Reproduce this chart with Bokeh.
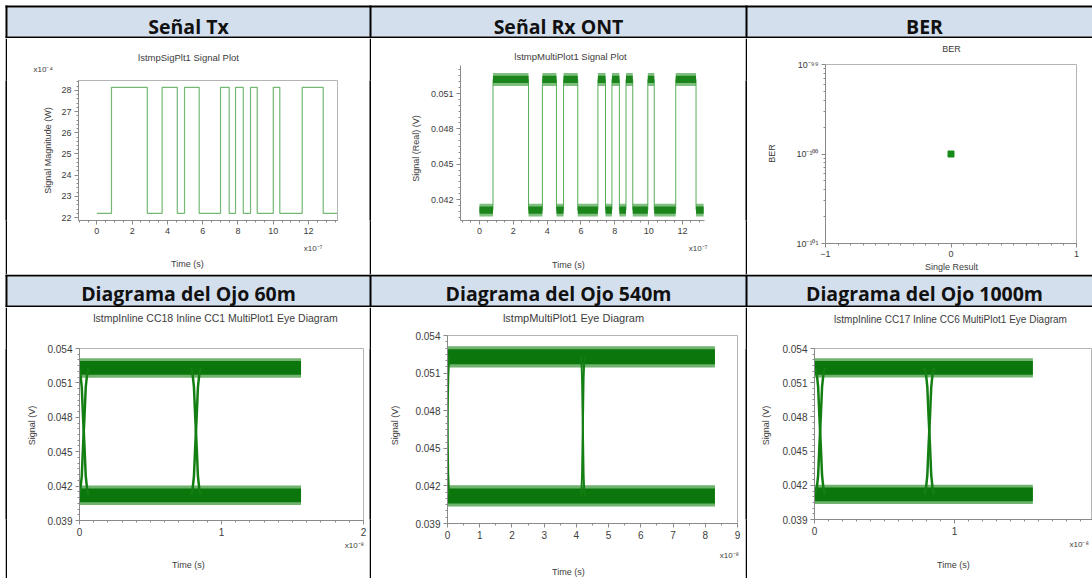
import math
from bokeh.plotting import figure
from bokeh.models import Range1d, Title, SingleIntervalTicker, FixedTicker, CustomJSTickFormatter
from bokeh.layouts import row, column
from bokeh.embed import file_html
from bokeh.resources import INLINE
from bokeh.core.properties import value

# ------------------------------------------------------------------ data
headers_top = ["Señal Tx", "Señal Rx ONT", "BER"]
headers_bottom = ["Diagrama del Ojo 60m", "Diagrama del Ojo 540m", "Diagrama del Ojo 1000m"]

titles = ["lstmpSigPlt1 Signal Plot", "lstmpMultiPlot1 Signal Plot", "BER",
          "lstmpInline CC18 Inline CC1 MultiPlot1 Eye Diagram",
          "lstmpMultiPlot1 Eye Diagram",
          "lstmpInline CC17 Inline CC6 MultiPlot1 Eye Diagram"]

# Tx signal: time (x1e-7 s), power (x1e-4 W)
tx_time = [0.0, 0.83, 2.86, 3.70, 4.56, 4.97, 5.80, 7.01, 7.50, 7.86, 8.30,
           8.71, 9.09, 10.00, 10.37, 11.64, 12.83, 13.62]
tx_power = [22.2, 28.15, 22.2, 28.15, 22.2, 28.15, 22.2, 28.15, 22.2, 28.15,
            22.2, 28.15, 22.2, 28.15, 22.2, 28.15, 22.2, 22.2]

# Rx signal: transition times (x1e-7 s), bit of each segment, levels (V)
rx_time = [0.0, 0.80, 2.90, 3.72, 4.55, 4.97, 5.81, 7.00, 7.45, 7.83, 8.27,
           8.66, 9.06, 9.95, 10.33, 11.60, 12.80, 13.25]
rx_bit = [0, 1, 0, 1, 0, 1, 0, 1, 0, 1, 0, 1, 0, 1, 0, 1, 0]
rx_high, rx_low = 0.0522, 0.0411
rx_core, rx_fringe = 0.0003, 0.00055

# BER
ber_x = [0.0]
ber_y = [1e-100]

# Eye diagrams: crossing times (x1e-8 s), end of traces
eye60_cross, eye60_end = [0.03, 0.82], 1.56
eye540_cross, eye540_end = [0.0, 4.2], 8.3
eye1000_cross, eye1000_end = [0.04, 0.82], 1.56
eye_high, eye_low = 0.0523, 0.0412
eye_core, eye_fringe = 0.0006, 0.00085
edge_dx = [-1.0, -0.7, -0.4, -0.15, 0.0, 0.15, 0.4, 0.7, 1.0]
edge_frac = [0.0, 0.04, 0.15, 0.38, 0.5, 0.62, 0.85, 0.96, 1.0]

# ------------------------------------------------------------------ style
FONT = "Liberation Sans"
TXT = "#3c3c3c"
AX = "#8a8a8a"
BLUE = "#D4DFEE"
W = 1092

_AW = {' ': 278, '(': 333, ')': 333, '.': 278, '-': 333, '\u207b': 420, '\u2074': 420,
       '\u2077': 420, '\u2078': 420}
for ch in "0123456789":
    _AW[ch] = 556
for ch, wd in zip("abcdefghijklmnopqrstuvwxyz",
                  [556, 556, 500, 556, 556, 278, 556, 556, 222, 222, 500, 222, 833, 556, 556,
                   556, 556, 333, 500, 278, 556, 500, 722, 500, 500, 500]):
    _AW[ch] = wd
for ch, wd in zip("ABCDEFGHIJKLMNOPQRSTUVWXYZ",
                  [667, 667, 722, 722, 667, 611, 778, 722, 278, 500, 667, 556, 833, 722, 778,
                   667, 778, 722, 667, 611, 722, 667, 944, 667, 667, 611]):
    _AW[ch] = wd


def text_w(t, size):
    return sum(_AW.get(c, 556) for c in t) / 1000.0 * size


def strip(w, h, color):
    p = figure(width=w, height=h, toolbar_location=None, output_backend="svg",
               min_border=0, x_axis_location=None, y_axis_location=None,
               outline_line_color=None, background_fill_color=color,
               border_fill_color=color, x_range=Range1d(0, 1), y_range=Range1d(0, 1))
    p.grid.visible = False
    p.scatter([0.5], [0.5], size=0, alpha=0)
    return p


def header(h, top_y, bot_y, labels, base_y):
    p = figure(width=W, height=h, toolbar_location=None, output_backend="svg",
               min_border=0, x_axis_location=None, y_axis_location=None,
               outline_line_color=None, x_range=Range1d(0, W), y_range=Range1d(h, 0),
               background_fill_color="white", border_fill_color="white")
    p.grid.visible = False
    p.quad(left=[7], right=[W], top=[top_y + 2], bottom=[bot_y], color=BLUE, line_color=None)
    p.quad(left=[5, 5], right=[W, W], top=[top_y, bot_y], bottom=[top_y + 2, bot_y + 2],
           color="black", line_color=None)
    p.quad(left=[5, 369, 745], right=[7, 371, 747], top=[top_y] * 3, bottom=[bot_y + 2] * 3,
           color="black", line_color=None)
    p.text(x=[188, 558, 924], y=[base_y] * 3, text=labels, text_font=value("Open Sans"),
           text_font_style="bold", text_font_size="19.5px", text_align="center",
           text_baseline="alphabetic", text_color="#111111")
    return p


def cell_fig(cell, frame, xr, yr, tick, log_y=False, outline=True):
    cx0, cy0, cw, ch = cell
    L, R, T, B = frame
    p = figure(width=cw, height=ch, x_range=Range1d(*xr), y_range=Range1d(*yr),
               y_axis_type="log" if log_y else "linear", title=None,
               output_backend="svg", toolbar_location=None,
               min_border_left=L - cx0, min_border_right=cx0 + cw - R,
               min_border_top=T - cy0, min_border_bottom=cy0 + ch - B,
               background_fill_color="white", border_fill_color="white")
    p.frame_align = False
    p.grid.visible = False
    p.outline_line_color = "#b4b4b4" if outline else None
    for ax in p.axis:
        ax.axis_line_color = AX
        ax.major_tick_line_color = AX
        ax.minor_tick_line_color = AX
        ax.major_tick_in = 0
        ax.major_tick_out = 4
        ax.minor_tick_in = 0
        ax.minor_tick_out = 2
        ax.major_label_text_font = FONT
        ax.major_label_text_font_size = "%gpx" % tick
        ax.major_label_text_color = TXT
        ax.major_label_standoff = 3
    return p


def _title(p, text, side, offset, standoff, size):
    p.add_layout(Title(text=text, align="left", offset=offset, standoff=standoff,
                       text_font=FONT, text_font_size="%gpx" % size,
                       text_font_style="normal", text_color=TXT), side)


def _gap(p, side, gap):
    if gap > 3.3:
        _title(p, " ", side, 0, gap - 3.15, 1)
        return gap
    return 0.0


def above(p, frame, items):
    """items: (text, centre x, centre y, size), from the frame outwards."""
    L, R, T, B = frame
    edge = T
    for text, cx, cy, size in items:
        hgt = 1.15 * size
        edge -= _gap(p, "above", edge - (cy + hgt / 2))
        _title(p, text, "above", cx - text_w(text, size) / 2 - L, 0, size)
        edge -= 2 + hgt


def below(p, frame, tick, items):
    L, R, T, B = frame
    edge = B + 7 + 1.15 * tick
    for text, cx, cy, size in items:
        hgt = 1.15 * size
        edge += _gap(p, "below", (cy - hgt / 2) - edge)
        _title(p, text, "below", cx - text_w(text, size) / 2 - L, 0, size)
        edge += 2 + hgt


def left(p, frame, text, cy, standoff, size):
    L, R, T, B = frame
    _title(p, text, "left", (B - cy) - text_w(text, size) / 2, standoff, size)


def draw_eye(p, cross, end, w, lw):
    p.quad(left=[0, 0], right=[end, end],
           bottom=[eye_high - eye_fringe, eye_low - eye_fringe],
           top=[eye_high + eye_fringe, eye_low + eye_fringe],
           color="#3f9a3f", alpha=0.75, line_color=None)
    p.quad(left=[0, 0], right=[end, end],
           bottom=[eye_high - eye_core, eye_low - eye_core],
           top=[eye_high + eye_core, eye_low + eye_core],
           color="#0b760b", line_color=None)
    xs, ys = [], []
    span = eye_high - eye_low
    for c in cross:
        ex = [c + w * d for d in edge_dx]
        xs.append(ex)
        ys.append([eye_high - span * f for f in edge_frac])
        xs.append(ex)
        ys.append([eye_low + span * f for f in edge_frac])
    p.multi_line(xs, ys, line_color="#137f13", line_width=lw)


TU, TL = 9.0, 10.0   # tick label sizes: upper row, lower row

# ------------------------------------------------------------------ chart 1 : Tx
f1 = (78, 337, 80, 220)
c1 = cell_fig((7, 38, 362, 236), f1, (-1.04, 13.64), (21.86, 28.47), TU)
c1.xaxis.ticker = SingleIntervalTicker(interval=2, num_minor_ticks=4)
c1.yaxis.ticker = SingleIntervalTicker(interval=1, num_minor_ticks=5)
c1.step(tx_time, tx_power, mode="after", line_color="#74b874", line_width=1.2)
above(c1, f1, [("x10⁻⁴", 33 + text_w("x10⁻⁴", 8) / 2, 68, 8),
               (titles[0], 188, 56, 9.5)])
below(c1, f1, TU, [("x10⁻⁷", 313, 247, 8), ("Time (s)", 187, 263, 9)])
left(c1, f1, "Signal Magnitude (W)", 150, 12, 9)

# ------------------------------------------------------------------ chart 2 : Rx
f2 = (460, 704, 65, 220)
c2 = cell_fig((371, 38, 374, 236), f2, (-1.12, 13.3), (0.04022, 0.05338), TU, outline=False)
c2.xaxis.ticker = SingleIntervalTicker(interval=2, num_minor_ticks=4)
c2.yaxis.ticker = SingleIntervalTicker(interval=0.003, num_minor_ticks=6)
rx_lvl = [rx_high if b else rx_low for b in rx_bit]
c2.step(rx_time, rx_lvl + [rx_lvl[-1]], mode="after", line_color="#5aad5a", line_width=1)
c2.quad(left=rx_time[:-1], right=rx_time[1:], bottom=[v - rx_fringe for v in rx_lvl],
        top=[v + rx_fringe for v in rx_lvl], color="#49a449", alpha=0.7, line_color=None)
c2.quad(left=rx_time[:-1], right=rx_time[1:], bottom=[v - rx_core for v in rx_lvl],
        top=[v + rx_core for v in rx_lvl], color="#1b851b", line_color=None)
above(c2, f2, [(titles[1], 570, 56, 9.5)])
below(c2, f2, TU, [("x10⁻⁷", 698, 247, 8), ("Time (s)", 568, 264, 9)])
left(c2, f2, "Signal (Real) (V)", 148, 13, 9)

# ------------------------------------------------------------------ chart 3 : BER
f3 = (824, 1076, 64, 243)
c3 = cell_fig((747, 38, 345, 236), f3, (-1, 1), (1e-101, 1e-99), TU, log_y=True)
c3.xaxis.ticker = SingleIntervalTicker(interval=1, num_minor_ticks=10)
c3.yaxis.ticker = FixedTicker(ticks=[1e-101, 1e-100, 1e-99],
                              minor_ticks=[k * 1e-101 for k in range(2, 10)] +
                                          [k * 1e-100 for k in range(2, 10)])
c3.yaxis.formatter = CustomJSTickFormatter(code="""
const e = Math.round(Math.log10(tick));
const sup = {'-':'\u207b','0':'\u2070','1':'\u00b9','2':'\u00b2','3':'\u00b3','4':'\u2074',
             '5':'\u2075','6':'\u2076','7':'\u2077','8':'\u2078','9':'\u2079'};
return '10' + String(e).split('').map(c => sup[c]).join('');
""")
c3.scatter(ber_x, ber_y, marker="square", size=6, color="#168a16")
above(c3, f3, [(titles[2], 950, 48, 9)])
below(c3, f3, TU, [("Single Result", 950, 267, 9)])
left(c3, f3, "BER", 153, 34, 9)

# ------------------------------------------------------------------ chart 4 : eye 60 m
f4 = (79, 363, 348, 520)
c4 = cell_fig((7, 307, 362, 271), f4, (0, 2), (0.039, 0.054), TL)
c4.xaxis.ticker = SingleIntervalTicker(interval=1, num_minor_ticks=10)
c4.yaxis.ticker = SingleIntervalTicker(interval=0.003, num_minor_ticks=6)
draw_eye(c4, eye60_cross, eye60_end, 0.035, 2.5)
above(c4, f4, [(titles[3], 215, 317, 10.5)])
below(c4, f4, TL, [("x10⁻⁸", 354, 543, 8), ("Time (s)", 188, 563, 9)])
left(c4, f4, "Signal (V)", 425, 16, 9)

# ------------------------------------------------------------------ chart 5 : eye 540 m
f5 = (447, 737, 335, 523)
c5 = cell_fig((371, 307, 374, 271), f5, (0, 9), (0.039, 0.054), TL)
c5.xaxis.ticker = SingleIntervalTicker(interval=1, num_minor_ticks=2)
c5.yaxis.ticker = SingleIntervalTicker(interval=0.003, num_minor_ticks=6)
draw_eye(c5, eye540_cross, eye540_end, 0.06, 2)
above(c5, f5, [(titles[4], 573, 317, 11)])
below(c5, f5, TL, [("x10⁻⁸", 729, 553, 8), ("Time (s)", 568, 570, 9)])
left(c5, f5, "Signal (V)", 425, 26, 9)

# ------------------------------------------------------------------ chart 6 : eye 1000 m
f6 = (814, 1092, 348, 519)
c6 = cell_fig((747, 307, 345, 271), f6, (0, 1.986), (0.039, 0.054), TL)
c6.xaxis.ticker = SingleIntervalTicker(interval=1, num_minor_ticks=10)
c6.yaxis.ticker = SingleIntervalTicker(interval=0.003, num_minor_ticks=6)
draw_eye(c6, eye1000_cross, eye1000_end, 0.035, 2.5)
above(c6, f6, [(titles[5], 950, 318, 10)])
below(c6, f6, TL, [("x10⁻⁸", 1069 + text_w("x10⁻⁸", 8) / 2, 544, 8), ("Time (s)", 953, 563, 9)])
left(c6, f6, "Signal (V)", 425, 17, 9)

# ------------------------------------------------------------------ layout
h1 = header(38, 5, 36, headers_top, 25.5)
h2 = header(33, 0, 31, headers_bottom, 19)
row1 = row(strip(5, 236, "white"), strip(2, 236, "black"), c1, strip(2, 236, "black"), c2,
           strip(2, 236, "black"), c3, spacing=0)
row2 = row(strip(5, 271, "white"), strip(2, 271, "black"), c4, strip(2, 271, "black"), c5,
           strip(2, 271, "black"), c6, spacing=0)
layout = column(h1, row1, h2, row2, spacing=0)

with open("out.html", "w", encoding="utf-8") as f:
    f.write(file_html(layout, INLINE))
